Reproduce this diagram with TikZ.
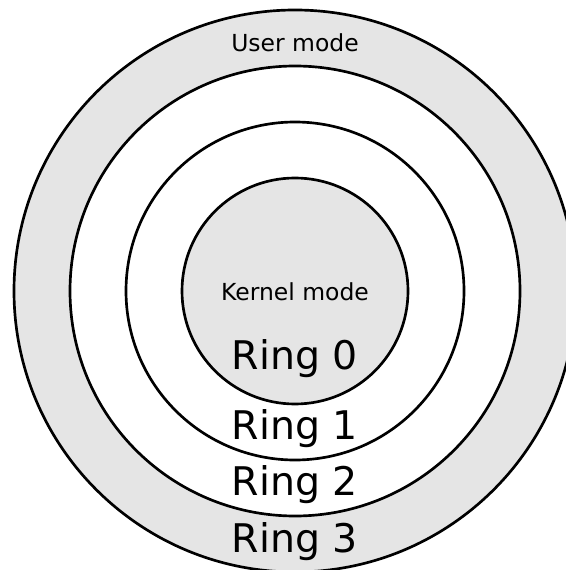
\documentclass[tikz,border=0pt]{standalone}
\usepackage{fontspec}
\setmainfont{DejaVu Sans}
\definecolor{ringgray}{HTML}{E5E5E5}

\begin{document}
\begin{tikzpicture}[x=0.75pt,y=0.75pt,yscale=-1,xscale=1]
	\useasboundingbox (0,0) rectangle (566,570);

	% Ring 3
	\draw [line width=2pt, fill=ringgray]    (295, 291) circle [x radius= 281, y radius= 281]   ;
	% Ring 2
	\draw [line width=2pt, fill=white]    (295, 291) circle [x radius= 225, y radius= 225]   ;
	% Ring 1
	\draw [line width=2pt, fill=white]    (295, 291) circle [x radius= 169, y radius= 169]   ;
	% Ring 0
	\draw [line width=2pt, fill=ringgray]    (295, 291) circle [x radius= 113, y radius= 113]   ;

	% Text Node
	\draw (295,52) node (user) [anchor=base][inner sep=0.75pt]  [font=\fontsize{17.6}{21}\selectfont]  {User mode};
	% Text Node
	\draw (295,300) node (kernel) [anchor=base][inner sep=0.75pt]  [font=\fontsize{17.6}{21}\selectfont]  {Kernel mode};
	% Text Node
	\draw (295,369) node (ring0) [anchor=base][inner sep=0.75pt]  [font=\fontsize{29.6}{35}\selectfont]  {Ring 0};
	% Text Node
	\draw (295,439) node (ring1) [anchor=base][inner sep=0.75pt]  [font=\fontsize{29.6}{35}\selectfont]  {Ring 1};
	% Text Node
	\draw (295,495) node (ring2) [anchor=base][inner sep=0.75pt]  [font=\fontsize{29.6}{35}\selectfont]  {Ring 2};
	% Text Node
	\draw (295,552) node (ring3) [anchor=base][inner sep=0.75pt]  [font=\fontsize{29.6}{35}\selectfont]  {Ring 3};

\end{tikzpicture}
\end{document}
